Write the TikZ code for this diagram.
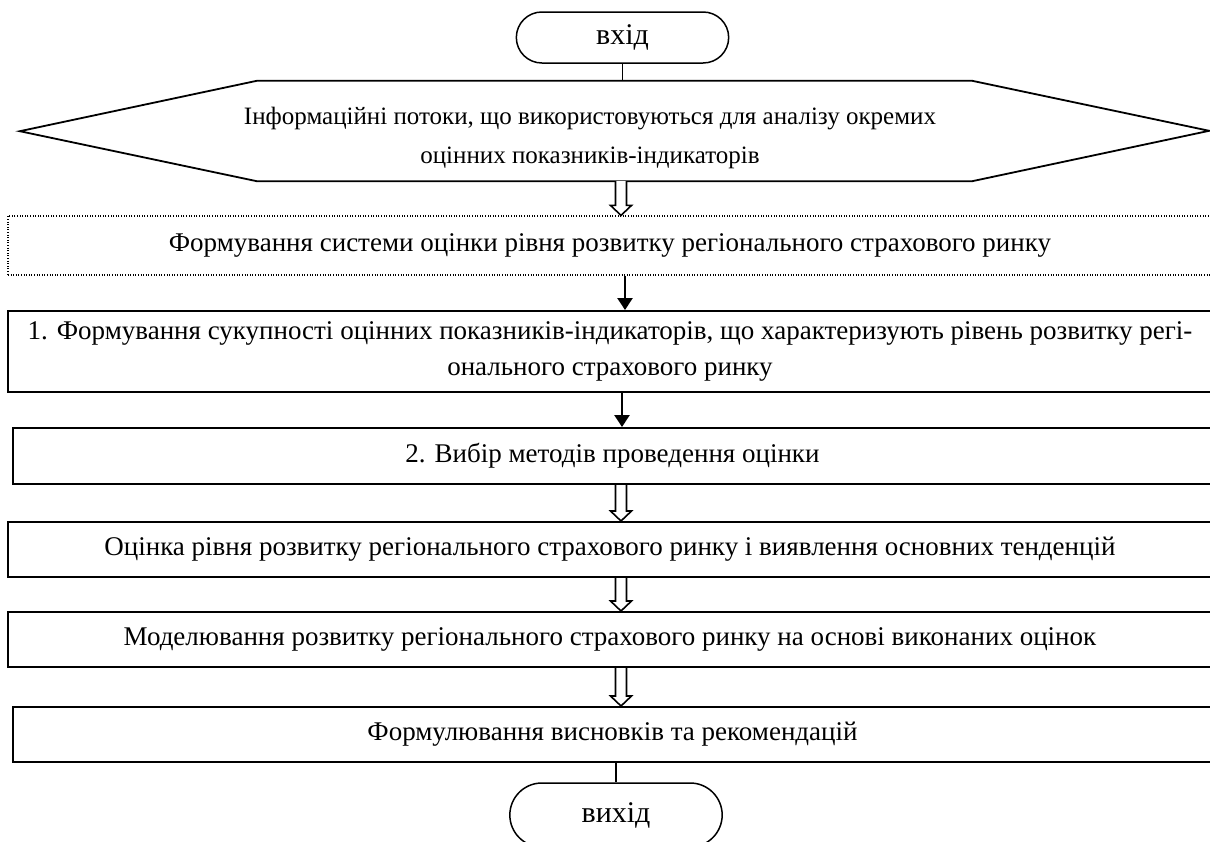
\documentclass[tikz,border=0pt]{standalone}
\usepackage{fontspec}
\setmainfont{Liberation Serif}
\usepackage{tikz}
\usetikzlibrary{shapes}
\usetikzlibrary{arrows.meta}
\usetikzlibrary{calc}
\usetikzlibrary{positioning}

\begin{document}
\begin{tikzpicture} [
            x=1pt, y=-1pt,
            font=\fontsize{27}{36}\selectfont,
            % ----- Node definitions ----- %
            terminal/.style = {
                draw,
                rounded rectangle,
                line width=1.5pt,
                minimum width=219pt,
                minimum height=#1,
                font=\fontsize{30}{36}\selectfont
            },
            stagebox/.style = {
                draw,
                rectangle,
                line width=2pt,
                minimum width=1204pt,
                minimum height=#1,
                align=center,
                inner sep=0pt
            },
            dottedbox/.style = {
                stagebox=#1,
                line width=1.2pt,
                dash pattern=on 1pt off 1.6pt
            },
            hexline/.style = {line width=1.8pt, line join=miter},
            joinline/.style = {line width=1.5pt},
            solidarrow/.style = {line width=2.6pt, -{Triangle[length=12pt,width=15pt]}},
            hollowarrow/.style = {line width=1.6pt, fill=white, line join=miter}
    ]
    \useasboundingbox (0,0) rectangle (1210,841);
    \clip (0,0) rectangle (1210,841);
    \coordinate (spine) at (621,0);

            % ----- Node constructions ----- %
        \node [terminal=51pt] (entry) at (622.5,37.5) {вхід};

        \node [minimum width=715pt, minimum height=100pt, inner sep=0pt] (info) at (614.5,131) {};
        \node [align=center, font=\fontsize{25}{39}\selectfont] (infotext) at (590,138) {
            Інформаційні потоки, що використовуються для аналізу окремих\\
            оцінних показників-індикаторів};

        \node [dottedbox=59pt] (system) at (610,245.5) {
            Формування системи оцінки рівня розвитку регіонального страхового ринку};
        \node [stagebox=81pt] (indicators) at (610,351.5) {
            1. Формування сукупності оцінних показників-індикаторів, що характеризують рівень розвитку регі-\\
            онального страхового ринку};
        \node [stagebox=56pt, minimum width=1199pt] (methods) at (612.5,456) {
            2. Вибір методів проведення оцінки};
        \node [stagebox=55pt] (assess) at (610,549.5) {
            Оцінка рівня розвитку регіонального страхового ринку і виявлення основних тенденцій};
        \node [stagebox=55pt] (model) at (610,639.5) {
            Моделювання розвитку регіонального страхового ринку на основі виконаних оцінок};
        \node [stagebox=55pt, minimum width=1199pt] (conclude) at (612.5,734.5) {
            Формулювання висновків та рекомендацій};

        \node [terminal=64pt] (exit) at (616,815) {вихід};

            % ----- Connections ----- %
        \draw [hexline] (info.north west) -- (info.north east) -- ++(237,50)
            -- (info.south east) -- (info.south west) -- ++(-237,-50) -- cycle;
        \draw [joinline] (entry.south) -- (entry.south |- info.north);
        \draw [joinline] (exit.north |- conclude.south) -- (exit.north);

        \draw [solidarrow] ([xshift=4pt]spine |- system.south) -- ([xshift=4pt]spine |- indicators.north);
        \draw [solidarrow] ([xshift=1pt]spine |- indicators.south) -- ([xshift=1pt]spine |- methods.north);

        \foreach \from/\to in {info/system, methods/assess, assess/model, model/conclude} {
            \path (spine |- \from.south) coordinate (top)
                  (spine |- \to.north) coordinate (tip);
            \draw [hollowarrow] ($(top)+(-5.5,0)$) -- ($(tip)+(-5.5,-10)$) -- ($(tip)+(-10.5,-10)$)
                -- (tip) -- ($(tip)+(10.5,-10)$) -- ($(tip)+(5.5,-10)$) -- ($(top)+(5.5,0)$);
        }
\end{tikzpicture}
\end{document}
